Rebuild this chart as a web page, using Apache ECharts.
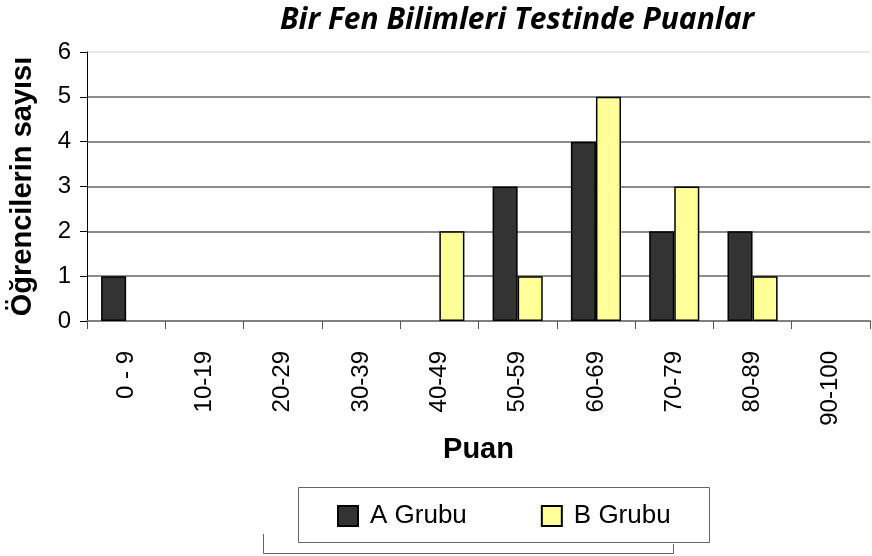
<!DOCTYPE html>
<html>
<head>
<meta charset="utf-8">
<script src="https://cdn.jsdelivr.net/npm/echarts@6/dist/echarts.min.js"></script>
<style>
  html, body { margin: 0; padding: 0; background: #fff; }
  #chart { width: 872px; height: 556px; }
</style>
</head>
<body>
<div id="chart"></div>
<script>
// Score bands and number of students in each group
var categories = ['0 - 9', '10-19', '20-29', '30-39', '40-49', '50-59', '60-69', '70-79', '80-89', '90-100'];
var groupA = [1, 0, 0, 0, 0, 3, 4, 2, 2, 0];
var groupB = [0, 0, 0, 0, 2, 1, 5, 3, 1, 0];
var yTicks = [0, 1, 2, 3, 4, 5, 6];

// Empty bands draw no bar
function bars(values) {
  return values.map(function (v) { return v === 0 ? '-' : v; });
}

var chart = echarts.init(document.getElementById('chart'), null, { renderer: 'canvas' });
var axisFont = 'Liberation Sans, Arial, sans-serif';

chart.setOption({
  animation: false,
  backgroundColor: '#fff',
  title: {
    text: 'Bir Fen Bilimleri Testinde Puanlar',
    left: 275,
    top: 0,
    textStyle: {
      fontFamily: 'Open Sans',
      fontStyle: 'italic',
      fontWeight: 'bold',
      fontSize: 30,
      color: '#000'
    }
  },
  grid: { left: 87, right: 2, top: 52, bottom: 235, containLabel: false, outerBoundsMode: 'none' },
  legend: {
    left: 337,
    top: 503,
    padding: 0,
    itemWidth: 20,
    itemHeight: 20,
    itemGap: 74,
    icon: 'rect',
    textStyle: { fontFamily: axisFont, fontSize: 26, color: '#000', padding: [0, 0, 0, 7] },
    data: ['A Grubu', 'B Grubu']
  },
  xAxis: {
    type: 'category',
    data: categories,
    name: 'Puan',
    nameLocation: 'middle',
    nameGap: 114,
    nameTextStyle: { fontFamily: axisFont, fontWeight: 'bold', fontSize: 29, color: '#000' },
    axisLine: { lineStyle: { color: '#808080', width: 2 } },
    axisTick: { show: true, length: 8, lineStyle: { color: '#555', width: 1 } },
    axisLabel: { rotate: 90, margin: 30, fontFamily: axisFont, fontSize: 24, color: '#000' }
  },
  yAxis: {
    type: 'value',
    min: yTicks[0],
    max: yTicks[yTicks.length - 1],
    interval: 1,
    name: 'Öğrencilerin sayısı',
    nameLocation: 'middle',
    nameGap: 50,
    nameRotate: 90,
    nameTextStyle: { fontFamily: axisFont, fontWeight: 'bold', fontSize: 29, color: '#000' },
    axisLine: { show: true, lineStyle: { color: '#000', width: 1 } },
    axisTick: { show: true, length: 7, lineStyle: { color: '#000', width: 1 } },
    axisLabel: { margin: 16, fontFamily: axisFont, fontSize: 24, color: '#000' },
    splitLine: {
      show: true,
      lineStyle: { color: ['#666', '#666', '#666', '#666', '#666', '#666', '#e0e0e0'], width: 1.5 }
    }
  },
  series: [
    {
      name: 'A Grubu',
      type: 'bar',
      data: bars(groupA),
      barGap: '0%',
      barCategoryGap: '36%',
      itemStyle: { color: '#333333', borderColor: '#000', borderWidth: 1.5 }
    },
    {
      name: 'B Grubu',
      type: 'bar',
      data: bars(groupB),
      itemStyle: { color: '#ffff99', borderColor: '#000', borderWidth: 1.5 }
    }
  ],
  graphic: [
    {
      type: 'rect',
      shape: { x: 298.5, y: 487.5, width: 411, height: 55 },
      style: { fill: 'none', stroke: '#666', lineWidth: 1 },
      z: -1
    },
    {
      type: 'polyline',
      shape: { points: [[263.5, 534], [263.5, 553.5], [673.5, 553.5], [673.5, 544]] },
      style: { fill: 'none', stroke: '#666', lineWidth: 1 }
    }
  ]
});
</script>
</body>
</html>
